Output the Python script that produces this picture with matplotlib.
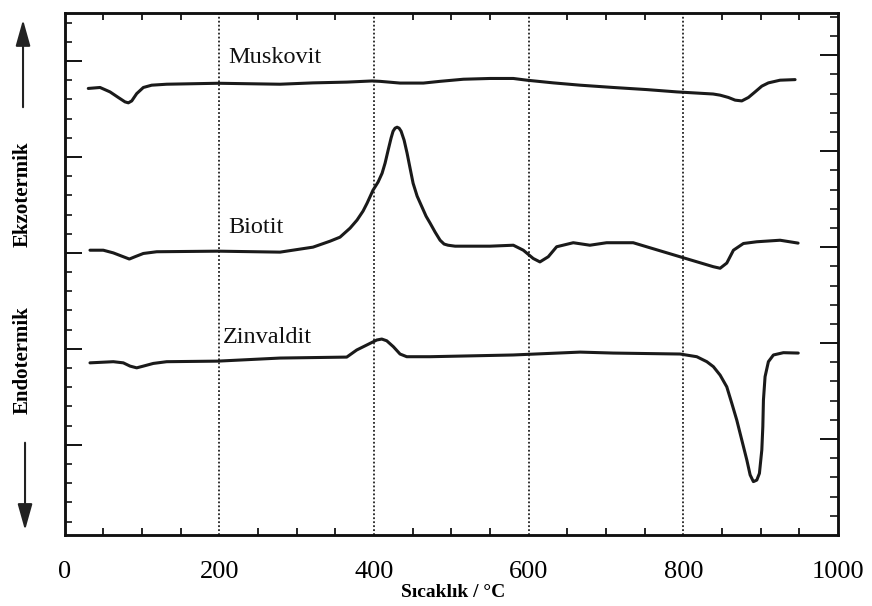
import matplotlib.pyplot as plt
import numpy as np
from matplotlib.patches import FancyArrowPatch
from matplotlib.ticker import FixedLocator, MultipleLocator

# temperature (°C) and DTA signal (arb. units)
musk_t = [30.6, 45.8, 58.7, 69.4, 78.1, 82.4, 86.8, 93.2, 101.8, 112.6,
          132.0, 198.4, 278.5, 321.3, 365.0, 397.5, 407.8, 433.7, 463.9, 485.4,
          515.6, 550.1, 580.2, 597.6, 632.0, 666.5, 709.6, 752.8, 791.6, 838.5,
          847.6, 858.3, 867.0, 875.6, 884.2, 892.8, 901.5, 910.0, 925.1, 944.5]
musk_s = [23.27, 23.32, 23.09, 22.80, 22.57, 22.52, 22.62, 23.00, 23.32, 23.44,
          23.49, 23.54, 23.49, 23.56, 23.60, 23.66, 23.64, 23.55, 23.55, 23.64,
          23.75, 23.79, 23.79, 23.70, 23.56, 23.44, 23.32, 23.21, 23.09, 22.98,
          22.92, 22.80, 22.66, 22.62, 22.80, 23.09, 23.39, 23.56, 23.70, 23.73]

bio_t = [32.8, 50.0, 63.0, 75.9, 83.7, 91.0, 101.8, 119.1, 198.4, 278.6,
         321.2, 343.2, 356.1, 369.1, 378.1, 385.9, 391.1, 398.8, 405.3, 410.5,
         414.4, 418.3, 422.1, 424.7, 427.3, 429.9, 432.5, 435.1, 439.0, 442.8,
         446.7, 450.6, 455.8, 462.2, 467.4, 472.6, 479.1, 485.5, 490.7, 495.8,
         504.9, 550.1, 580.2, 593.1, 605.9, 614.6, 625.4, 636.2, 657.7, 679.2,
         700.8, 735.2, 752.5, 795.6, 838.8, 847.6, 856.2, 864.8, 877.7, 895.0,
         925.1, 948.4]
bio_s = [14.84, 14.84, 14.70, 14.50, 14.38, 14.50, 14.67, 14.76, 14.79, 14.74,
         15.00, 15.31, 15.52, 15.99, 16.41, 16.88, 17.29, 17.97, 18.39, 18.85,
         19.38, 20.05, 20.68, 21.04, 21.20, 21.25, 21.20, 21.04, 20.57, 19.90,
         19.11, 18.33, 17.66, 17.08, 16.61, 16.25, 15.78, 15.36, 15.16, 15.10,
         15.05, 15.05, 15.10, 14.84, 14.41, 14.23, 14.50, 15.02, 15.23, 15.10,
         15.23, 15.23, 15.02, 14.50, 13.98, 13.90, 14.17, 14.84, 15.19, 15.28,
         15.36, 15.21]

zin_t = [32.8, 63.0, 75.9, 84.6, 93.2, 101.8, 114.7, 132.0, 198.4, 278.6,
         364.8, 377.7, 390.7, 403.6, 410.1, 416.5, 425.1, 433.7, 442.4, 472.5,
         579.9, 666.5, 709.2, 795.8, 817.4, 830.4, 838.9, 847.6, 856.2, 862.7,
         869.1, 875.6, 882.1, 886.4, 890.6, 895.0, 898.4, 901.5, 902.8, 903.6,
         905.7, 910.0, 916.5, 929.4, 948.6]
zin_s = [8.97, 9.03, 8.97, 8.80, 8.71, 8.80, 8.94, 9.03, 9.06, 9.22,
         9.27, 9.64, 9.90, 10.16, 10.21, 10.12, 9.81, 9.43, 9.29, 9.29,
         9.38, 9.53, 9.48, 9.43, 9.29, 9.03, 8.77, 8.33, 7.72, 6.86,
         5.99, 4.95, 3.91, 3.13, 2.78, 2.86, 3.21, 4.43, 5.64, 7.03,
         8.25, 9.03, 9.38, 9.50, 9.48]

names = ["Muskovit", "Biotit", "Zinvaldit"]
name_pos = [(211, 24.58), (211, 15.73), (205, 10.0)]
xticks = [0, 200, 400, 600, 800, 1000]

serif = "Liberation Serif"

fig = plt.figure(figsize=(8.72, 6.06), dpi=100)
ax = fig.add_axes([0.0741, 0.1172, 0.8869, 0.8613])

for t, s in [(musk_t, musk_s), (bio_t, bio_s), (zin_t, zin_s)]:
    ax.plot(t, s, color="#1a1a1a", lw=2.2, solid_joinstyle="round", solid_capstyle="round")

for nm, (px, py) in zip(names, name_pos):
    ax.text(px, py, nm, fontsize=17.5, family=serif, va="baseline", ha="left", color="#111111")

ax.set_xlim(0, 1000)
ax.set_ylim(0, 27.2)

# dotted vertical lines at the 200-steps
for g in [200, 400, 600, 800]:
    ax.axvline(g, color="#222222", ls=(0, (1, 1.2)), lw=1.3, zorder=0)

ax.set_xticks(xticks)
ax.set_xticklabels([str(v) for v in xticks], fontsize=19, family=serif)
ax.xaxis.set_minor_locator(MultipleLocator(50))
ax.tick_params(axis="x", which="major", length=0, pad=19, top=False)
ax.tick_params(axis="x", which="minor", direction="in", length=5, width=1.2, top=True)

# left side ticks (slightly shifted vs right side in the scan)
ax.yaxis.set_major_locator(FixedLocator(np.arange(4.7, 27, 5)))
ax.yaxis.set_minor_locator(FixedLocator(np.arange(0.7, 27, 1)))
ax.tick_params(axis="y", which="major", direction="in", length=12, width=1.3, labelleft=False)
ax.tick_params(axis="y", which="minor", direction="in", length=5, width=1.1)

ax2 = ax.twinx()
ax2.set_ylim(0, 27.2)
ax2.yaxis.set_major_locator(FixedLocator(np.arange(5, 27, 5)))
ax2.yaxis.set_minor_locator(FixedLocator(np.arange(1, 27.1, 1)))
ax2.tick_params(axis="y", which="major", direction="in", length=13, width=1.3, labelright=False)
ax2.tick_params(axis="y", which="minor", direction="in", length=6, width=1.1)

for a in (ax, ax2):
    for sp in a.spines.values():
        sp.set_linewidth(1.8)
        sp.set_color("#111111")

fig.text(0.52, 0.022, "Sıcaklık / °C", fontsize=14, family=serif, weight="bold",
         ha="center", va="center")

fig.text(0.026, 0.680, "Ekzotermik", fontsize=15, family=serif, weight="bold",
         rotation=90, ha="center", va="center")
fig.text(0.026, 0.406, "Endotermik", fontsize=15, family=serif, weight="bold",
         rotation=90, ha="center", va="center")

arrow = dict(arrowstyle="-|>,head_length=1.6,head_width=0.45", color="#222222",
             lw=1.5, mutation_scale=10)
fig.add_artist(FancyArrowPatch((0.0264, 0.8185), (0.0264, 0.972),
                               transform=fig.transFigure, **arrow))
fig.add_artist(FancyArrowPatch((0.0287, 0.274), (0.0287, 0.1205),
                               transform=fig.transFigure, **arrow))

fig.savefig("out.png", dpi=100)
